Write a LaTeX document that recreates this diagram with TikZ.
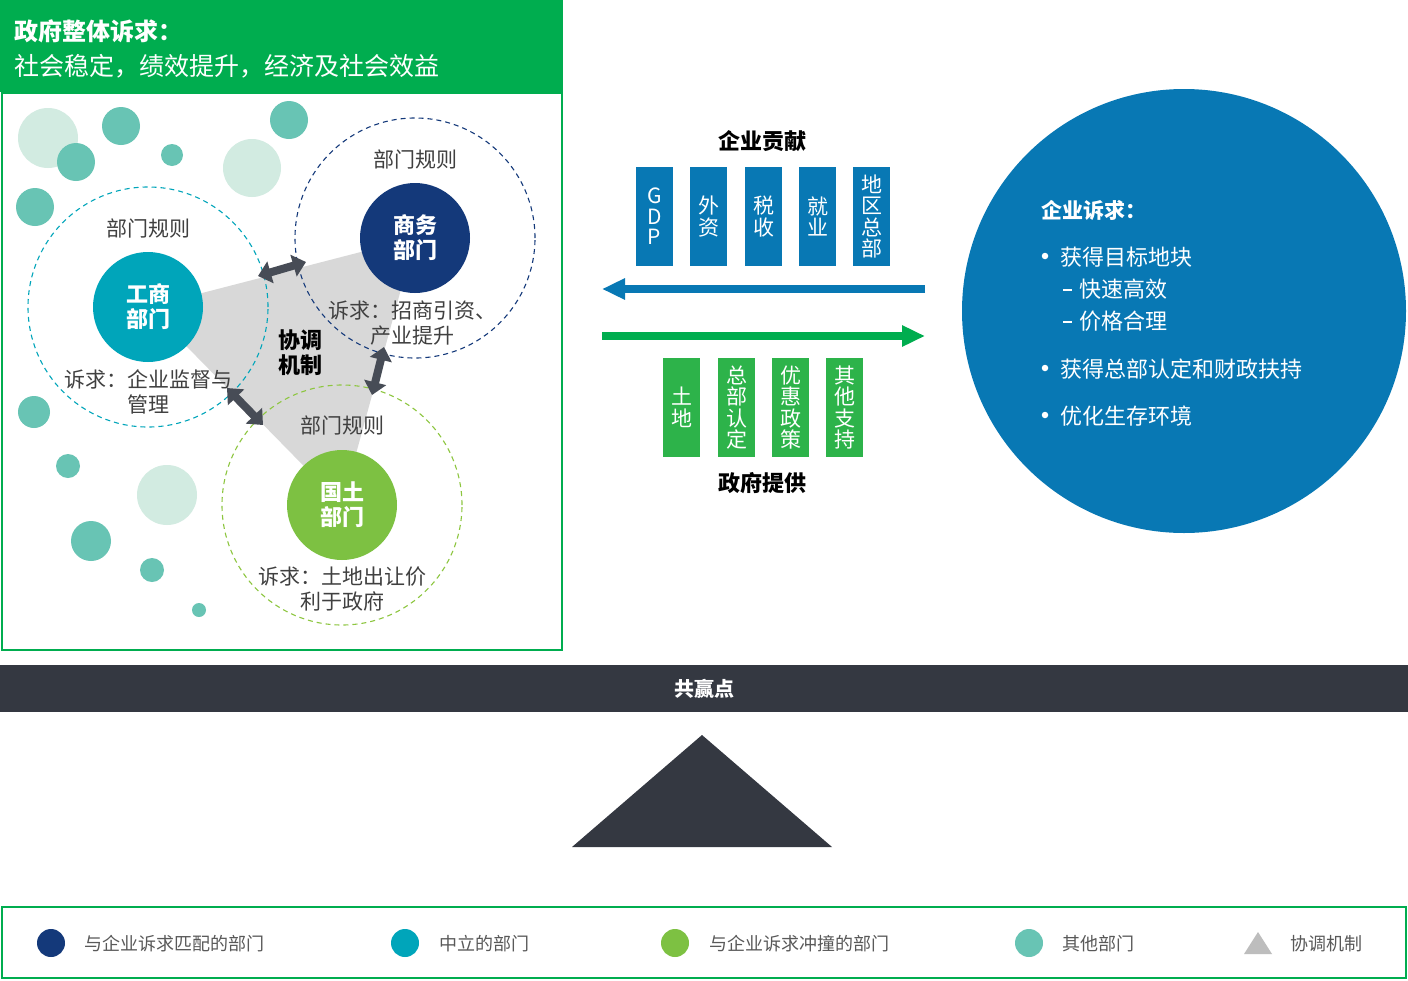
\documentclass[tikz,border=0pt]{standalone}
\usepackage{fontspec}
\setmainfont{Noto Sans CJK SC}
\usetikzlibrary{arrows.meta}

\definecolor{govgreen}{HTML}{00AD4F}
\definecolor{boxgreen}{HTML}{2DB34A}
\definecolor{firmblue}{HTML}{0878B4}
\definecolor{navy}{HTML}{14397A}
\definecolor{cyanish}{HTML}{00A5BA}
\definecolor{leafgreen}{HTML}{7DC142}
\definecolor{ringgreen}{HTML}{8DC63F}
\definecolor{teallight}{HTML}{68C4B4}
\definecolor{palegreen}{HTML}{D2EBE1}
\definecolor{coordgray}{HTML}{D8D8D8}
\definecolor{linkgray}{HTML}{474C56}
\definecolor{labelgray}{HTML}{404040}
\definecolor{legendgray}{HTML}{595959}
\definecolor{darkslate}{HTML}{343841}
\definecolor{legtri}{HTML}{BDBDBD}

\newcommand\fsize[2]{\fontsize{#1}{#2}\selectfont}

\begin{document}
\begin{tikzpicture}
    [x=1pt,y=-1pt,inner sep=0pt,
     bubble/.style={circle,fill=teallight,minimum size=#1},
     palebubble/.style={circle,fill=palegreen,minimum size=#1},
     ring/.style={circle,draw=#1,dash pattern=on 5pt off 4pt,line width=1.1pt,minimum size=240pt},
     dept/.style={circle,fill=#1,minimum size=110pt,text=white,font=\fsize{22}{25}\bfseries,align=center},
     rule/.style={text=labelgray,font=\fsize{21}{25}},
     claim/.style={text=labelgray,font=\fsize{21}{25},align=center},
     link/.style={line width=8pt,draw=linkgray,{Triangle[width=22pt,length=13pt]}-{Triangle[width=22pt,length=13pt]}},
     gives/.style={fill=#1,minimum width=37pt,minimum height=99pt,text=white,font=\fsize{21}{21.5},align=center},
     flow/.style={line width=8pt,draw=#1,-{Triangle[width=20pt,length=23pt]}},
     wish/.style={anchor=west,text=white,font=\fsize{22}{22}},
     dot/.style={circle,fill=white,minimum size=6.5pt},
     subdash/.style={fill=white,minimum width=9pt,minimum height=1.4pt},
     legdot/.style={circle,fill=#1,minimum size=28pt},
     legtext/.style={anchor=west,text=legendgray,font=\fsize{18}{18}}]

    \useasboundingbox (0,0) rectangle (1408,980);
    \fill [white] (0,0) rectangle (1408,980);

    % government header:
    \node (header) at (0,0) [anchor=north west,fill=govgreen,minimum width=563pt,minimum height=92pt] {};
    \node (govtitle) at (14,31) [anchor=west,text=white,font=\fsize{24}{24}\bfseries] {政府整体诉求：};
    \node (govgoal) at (14,66) [anchor=west,text=white,font=\fsize{25}{25}] {社会稳定，绩效提升，经济及社会效益};
    \draw [govgreen,line width=2pt] (2,93) rectangle (562,650);

    % other departments:
    \node (p1) at (48,138) [palebubble=60pt] {};
    \node (p2) at (252,168) [palebubble=58pt] {};
    \node (p3) at (167,495) [palebubble=60pt] {};
    \node (t1) at (121,126) [bubble=38pt] {};
    \node (t2) at (76,162) [bubble=38pt] {};
    \node (t3) at (172,155) [bubble=22pt] {};
    \node (t4) at (289,120) [bubble=38pt] {};
    \node (t5) at (35,207) [bubble=38pt] {};
    \node (t6) at (34,412) [bubble=32pt] {};
    \node (t7) at (68,466) [bubble=24pt] {};
    \node (t8) at (91,541) [bubble=40pt] {};
    \node (t9) at (152,570) [bubble=24pt] {};
    \node (t10) at (199,610) [bubble=14pt] {};

    % coordination area:
    \coordinate (gsc) at (148,307);
    \coordinate (swc) at (415,238);
    \coordinate (gtc) at (342,505);
    \fill [coordgray] (gsc) -- (swc) -- (gtc) -- cycle;
    \node (coord) at (300,353) [align=center,font=\fsize{22}{25}\bfseries] {协调\\机制};

    % department rings:
    \node (gsring) at (gsc) [ring=cyanish] {};
    \node (swring) at (swc) [ring=navy] {};
    \node (gtring) at (gtc) [ring=ringgreen] {};

    % departments:
    \node (gs) at (gsc) [dept=cyanish] {工商\\部门};
    \node (sw) at (swc) [dept=navy] {商务\\部门};
    \node (gt) at (gtc) [dept=leafgreen] {国土\\部门};

    \node (gsrule) at (148,228) [rule] {部门规则};
    \node (swrule) at (415,159) [rule] {部门规则};
    \node (gtrule) at (342,425) [rule] {部门规则};

    \node (gsclaim) at (148,392) [claim] {诉求：企业监督与\\管理};
    \node (swclaim) at (412,323) [claim] {诉求：招商引资、\\产业提升};
    \node (gtclaim) at (342,589) [claim] {诉求：土地出让价\\利于政府};

    % links between rings:
    \coordinate (l1a) at (258,276);
    \coordinate (l1b) at (306,262);
    \coordinate (l2a) at (384,347);
    \coordinate (l2b) at (372,395);
    \coordinate (l3a) at (227,388);
    \coordinate (l3b) at (263,425);
    \draw [link] (l1a) -- (l1b);
    \draw [link] (l2a) -- (l2b);
    \draw [link] (l3a) -- (l3b);

    % firm contribution:
    \node (contrib) at (762,141) [font=\fsize{22}{22}\bfseries] {企业贡献};
    \node (gdp) at (654.5,216.5) [gives=firmblue,font=\fsize{21}{20.5}] {G\\D\\P};
    \node (fdi) at (708.5,216.5) [gives=firmblue] {外\\资};
    \node (tax) at (763.5,216.5) [gives=firmblue] {税\\收};
    \node (jobs) at (817.5,216.5) [gives=firmblue] {就\\业};
    \node (hq) at (871.5,216.5) [gives=firmblue] {地\\区\\总\\部};

    % flows:
    \coordinate (bluestart) at (925,289);
    \coordinate (blueend) at (602,289);
    \coordinate (greenstart) at (602,336);
    \coordinate (greenend) at (925,336);
    \draw [flow=firmblue] (bluestart) -- (blueend);
    \draw [flow=govgreen] (greenstart) -- (greenend);

    % government offer:
    \node (land) at (681.5,407.5) [gives=boxgreen] {土\\地};
    \node (hqcert) at (736.5,407.5) [gives=boxgreen] {总\\部\\认\\定};
    \node (policy) at (790.5,407.5) [gives=boxgreen] {优\\惠\\政\\策};
    \node (support) at (844.5,407.5) [gives=boxgreen] {其\\他\\支\\持};
    \node (offer) at (762,483) [font=\fsize{22}{22}\bfseries] {政府提供};

    % firm claims:
    \node (firm) at (1184,311) [circle,fill=firmblue,minimum size=444pt] {};
    \node (firmtitle) at (1041,210) [anchor=west,text=white,font=\fsize{21}{21}\bfseries] {企业诉求：};
    \node (d1) at (1045,256) [dot] {};
    \node (w1) at (1060,257) [wish] {获得目标地块};
    \node (e1) at (1067,290) [subdash] {};
    \node (w2) at (1079,289) [wish] {快速高效};
    \node (e2) at (1067,322) [subdash] {};
    \node (w3) at (1079,321) [wish] {价格合理};
    \node (d2) at (1045,368) [dot] {};
    \node (w4) at (1060,369) [wish] {获得总部认定和财政扶持};
    \node (d3) at (1045,415) [dot] {};
    \node (w5) at (1060,416) [wish] {优化生存环境};

    % win-win point:
    \node (winwin) at (704,688.5) [fill=darkslate,minimum width=1408pt,minimum height=47pt,text=white,font=\fsize{20}{20}\bfseries] {共赢点};
    \fill [darkslate] (572,847) -- (702,735) -- (832,847) -- cycle;

    % legend:
    \draw [govgreen,line width=2pt] (2,907) rectangle (1406,978);
    \node (k1) at (51,943) [legdot=navy] {};
    \node (k1t) at (84,944) [legtext] {与企业诉求匹配的部门};
    \node (k2) at (405,943) [legdot=cyanish] {};
    \node (k2t) at (439,944) [legtext] {中立的部门};
    \node (k3) at (675,943) [legdot=leafgreen] {};
    \node (k3t) at (709,944) [legtext] {与企业诉求冲撞的部门};
    \node (k4) at (1029,943) [legdot=teallight] {};
    \node (k4t) at (1062,944) [legtext] {其他部门};
    \fill [legtri] (1244,954) -- (1258,932) -- (1272,954) -- cycle;
    \node (k5t) at (1290,944) [legtext] {协调机制};

  \end{tikzpicture}
\end{document}
